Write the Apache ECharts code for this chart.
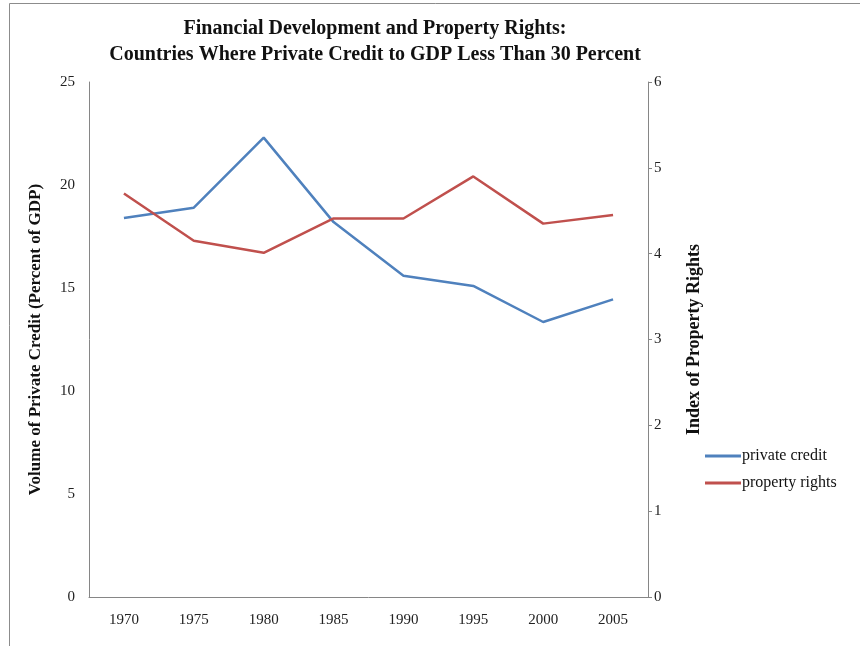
<!DOCTYPE html>
<html><head><meta charset="utf-8">
<script src="https://cdn.jsdelivr.net/npm/echarts@6/dist/echarts.min.js"></script>
<style>html,body{margin:0;padding:0;background:#fff}#c{width:860px;height:646px}</style>
</head><body><div id="c"></div>
<script>
const years = ['1970','1975','1980','1985','1990','1995','2000','2005'];
const privateCredit = [18.4, 18.9, 22.3, 18.2, 15.6, 15.1, 13.35, 14.45];
const propertyRights = [4.70, 4.15, 4.01, 4.41, 4.41, 4.90, 4.35, 4.45];
const leftTicks = [0, 5, 10, 15, 20, 25];
const rightTicks = [0, 1, 2, 3, 4, 5, 6];

const serif = '"Liberation Serif","DejaVu Serif",serif';
const chart = echarts.init(document.getElementById('c'));
chart.setOption({
  animation: false,
  backgroundColor: '#fff',
  graphic: [{type:'rect', shape:{x:9.5,y:3.5,width:900,height:700}, style:{fill:'none', stroke:'#8c8c8c', lineWidth:1}, silent:true}],
  title: {
    text: 'Financial Development and Property Rights:\nCountries Where Private Credit to GDP Less Than 30 Percent',
    left: 370, top: 11, textAlign: 'center',
    textStyle: {fontFamily: serif, fontSize: 20, fontWeight: 'bold', color: '#111', lineHeight: 26}
  },
  legend: {
    orient: 'vertical', left: 700, top: 443, itemWidth: 36, itemHeight: 3, itemGap: 11,
    icon: 'rect',
    textStyle: {fontFamily: serif, fontSize: 16, color: '#111', padding: [0,0,0,-4]},
    data: ['private credit', 'property rights']
  },
  grid: {left: 89, right: 212, top: 82, bottom: 49},
  xAxis: {
    type: 'category', data: years, boundaryGap: true,
    axisLine: {lineStyle: {color: '#868686'}},
    axisTick: {show: false},
    axisLabel: {fontFamily: serif, fontSize: 15, color: '#222', margin: 16}
  },
  yAxis: [{
    type: 'value', min: 0, max: 25, interval: 5,
    name: 'Volume of Private Credit (Percent of GDP)', nameLocation: 'middle', nameGap: 45,
    nameTextStyle: {fontFamily: serif, fontSize: 17, fontWeight: 'bold', color: '#111'},
    axisLine: {show: true, lineStyle: {color: '#868686'}},
    axisTick: {show: false},
    splitLine: {show: false},
    axisLabel: {fontFamily: serif, fontSize: 15, color: '#222', margin: 14}
  }, {
    type: 'value', min: 0, max: 6, interval: 1, position: 'right',
    name: 'Index of Property Rights', nameLocation: 'middle', nameGap: 37,
    nameRotate: 90,
    nameTextStyle: {fontFamily: serif, fontSize: 18, fontWeight: 'bold', color: '#111'},
    axisLine: {show: true, lineStyle: {color: '#868686'}},
    axisTick: {show: true, length: 4, lineStyle: {color: '#868686'}},
    splitLine: {show: false},
    axisLabel: {fontFamily: serif, fontSize: 15, color: '#222', margin: 6}
  }],
  series: [{
    name: 'private credit', type: 'line', data: privateCredit, yAxisIndex: 0,
    symbol: 'none', lineStyle: {color: '#4F81BD', width: 2.5}, itemStyle: {color: '#4F81BD'}
  }, {
    name: 'property rights', type: 'line', data: propertyRights, yAxisIndex: 1,
    symbol: 'none', lineStyle: {color: '#C0504D', width: 2.5}, itemStyle: {color: '#C0504D'}
  }]
});
</script></body></html>
